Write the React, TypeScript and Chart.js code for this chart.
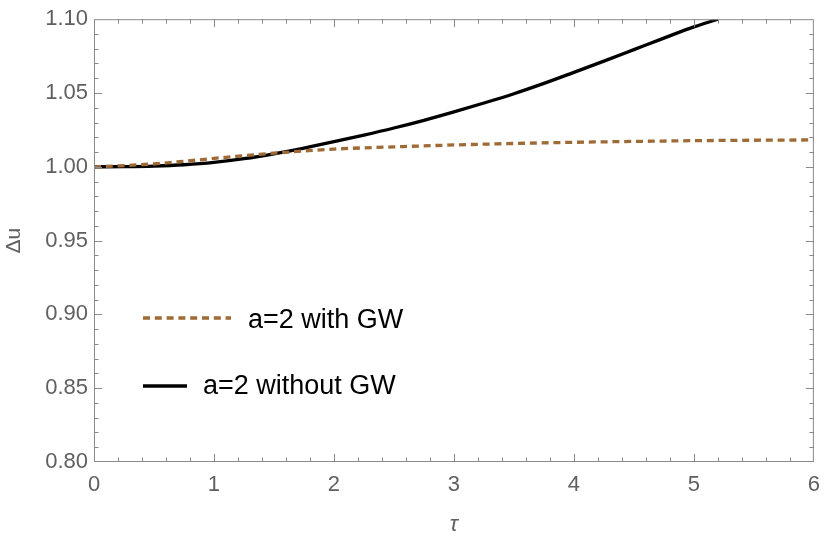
import React, { useEffect, useRef } from "react";
import { Chart, registerables } from "chart.js";

Chart.register(...registerables);

// a=2 without GW (solid black)
const tauWithout = [0, 0.25, 0.5, 0.75, 1.0, 1.25, 1.5, 1.75, 2.0, 2.25, 2.5, 2.75, 3.0, 3.25, 3.5, 3.75, 4.0, 4.25, 4.5, 4.75, 5.0, 5.2];
const duWithout = [1.0, 1.0001, 1.0005, 1.0014, 1.003, 1.0055, 1.0088, 1.0127, 1.017, 1.0215, 1.0263, 1.0315, 1.0372, 1.0432, 1.0495, 1.0565, 1.064, 1.0716, 1.0794, 1.0872, 1.0948, 1.1];

// a=2 with GW (dotted brown)
const tauWith = [0, 0.25, 0.5, 0.75, 1.0, 1.25, 1.5, 1.75, 2.0, 2.5, 3.0, 3.5, 4.0, 4.5, 5.0, 5.5, 6.0];
const duWith = [1.0, 1.0008, 1.002, 1.0037, 1.0057, 1.0075, 1.0092, 1.0107, 1.012, 1.0135, 1.0148, 1.0158, 1.0166, 1.0172, 1.0177, 1.018, 1.0182];

const labelWith = "a=2 with GW";
const labelWithout = "a=2 without GW";

const xMin = 0, xMax = 6, xStep = 1, xMinorStep = 0.2;
const yMin = 0.8, yMax = 1.1, yStep = 0.05, yMinorStep = 0.01;

const BROWN = "#9E6A35";
const FRAME = "#8a8a8a";
const TICKTEXT = "#606060";
const FONT = "'Liberation Sans', Arial, sans-serif";

const framePlugin = {
  id: "frameTicks",
  afterDraw(chart: any) {
    const { ctx, chartArea } = chart;
    const xs = chart.scales.x;
    const ys = chart.scales.y;
    const { left, right, top, bottom } = chartArea;
    ctx.save();
    ctx.strokeStyle = FRAME;
    ctx.lineWidth = 1;
    ctx.strokeRect(left + 0.5, top + 0.5, right - left - 1, bottom - top - 1);
    ctx.beginPath();
    const nx = Math.round((xMax - xMin) / xMinorStep);
    for (let i = 1; i < nx; i++) {
      const v = xMin + i * xMinorStep;
      const major = i % Math.round(xStep / xMinorStep) === 0;
      const len = major ? 8 : 4.5;
      const px = Math.round(xs.getPixelForValue(v)) + 0.5;
      ctx.moveTo(px, bottom);
      ctx.lineTo(px, bottom - len);
      ctx.moveTo(px, top);
      ctx.lineTo(px, top + len);
    }
    const ny = Math.round((yMax - yMin) / yMinorStep);
    for (let i = 1; i < ny; i++) {
      const v = yMin + i * yMinorStep;
      const major = i % Math.round(yStep / yMinorStep) === 0;
      const len = major ? 8 : 4.5;
      const py = Math.round(ys.getPixelForValue(v)) + 0.5;
      ctx.moveTo(left, py);
      ctx.lineTo(left + len, py);
      ctx.moveTo(right, py);
      ctx.lineTo(right - len, py);
    }
    ctx.stroke();
    ctx.restore();
  },
};

const legendPlugin = {
  id: "insetLegend",
  afterDraw(chart: any) {
    const { ctx, chartArea } = chart;
    const l = chartArea.left;
    ctx.save();
    ctx.font = `27px ${FONT}`;
    ctx.fillStyle = "#000";
    ctx.textBaseline = "middle";
    ctx.textAlign = "left";
    // entry 1
    ctx.strokeStyle = BROWN;
    ctx.lineWidth = 3.3;
    ctx.lineCap = "butt";
    ctx.setLineDash([7, 4.8]);
    ctx.beginPath();
    ctx.moveTo(l + 49, 318);
    ctx.lineTo(l + 137, 318);
    ctx.stroke();
    ctx.fillText(labelWith, l + 154, 321);
    // entry 2
    ctx.setLineDash([]);
    ctx.strokeStyle = "#000";
    ctx.beginPath();
    ctx.moveTo(l + 49, 386);
    ctx.lineTo(l + 93, 386);
    ctx.stroke();
    ctx.fillText(labelWithout, l + 109, 387);
    ctx.restore();
  },
};

export default function App() {
  const ref = useRef<HTMLCanvasElement | null>(null);
  useEffect(() => {
    document.body.style.margin = "0";
    const canvas = ref.current;
    if (!canvas) return;
    const chart = new Chart(canvas, {
      type: "line",
      data: {
        datasets: [
          {
            label: labelWith,
            data: tauWith.map((t, i) => ({ x: t, y: duWith[i] })),
            borderColor: BROWN,
            borderWidth: 3.3,
            borderDash: [7, 4.8],
            borderCapStyle: "butt",
            pointRadius: 0,
            cubicInterpolationMode: "monotone",
            fill: false,
          },
          {
            label: labelWithout,
            data: tauWithout.map((t, i) => ({ x: t, y: duWithout[i] })),
            borderColor: "#000",
            borderWidth: 3.3,
            pointRadius: 0,
            cubicInterpolationMode: "monotone",
            fill: false,
          },
        ],
      },
      options: {
        responsive: false,
        animation: false,
        layout: { padding: { top: 15, right: 11, left: 0, bottom: 0 } },
        plugins: { legend: { display: false }, tooltip: { enabled: false } },
        scales: {
          x: {
            type: "linear",
            min: xMin,
            max: xMax,
            grid: { display: false, drawTicks: false },
            border: { display: false },
            ticks: {
              stepSize: xStep,
              padding: 10,
              color: TICKTEXT,
              font: { family: FONT, size: 22 },
              maxRotation: 0,
            },
            title: {
              display: true,
              text: "τ",
              color: TICKTEXT,
              font: { family: FONT, size: 22, style: "italic" },
              padding: { top: 0, bottom: 9 },
            },
            afterFit(scale: any) {
              scale.height = 85;
            },
          },
          y: {
            type: "linear",
            min: yMin,
            max: yMax,
            grid: { display: false, drawTicks: false },
            border: { display: false },
            ticks: {
              stepSize: yStep,
              padding: 6,
              color: TICKTEXT,
              font: { family: FONT, size: 22 },
              callback: (v: any) => Number(v).toFixed(2),
            },
            title: {
              display: true,
              text: "Δu",
              color: TICKTEXT,
              font: { family: FONT, size: 21 },
              padding: { top: 2, bottom: 0 },
            },
            afterFit(scale: any) {
              scale.width = 94;
            },
          },
        },
      } as any,
      plugins: [framePlugin, legendPlugin],
    });
    return () => chart.destroy();
  }, []);
  return <canvas ref={ref} width={830} height={547} style={{ display: "block" }} />;
}
